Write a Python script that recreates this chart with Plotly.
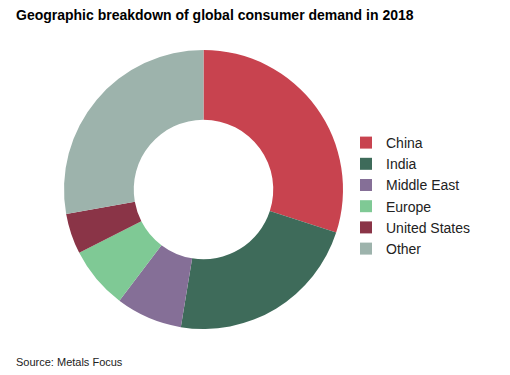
import plotly.graph_objects as go

regions = ["China", "India", "Middle East", "Europe", "United States", "Other"]
shares = [30.0, 22.6, 7.7, 7.2, 4.7, 27.8]
colors = ["#C8434F", "#3E6B5A", "#856F97", "#7FC995", "#8A3447", "#9DB3AC"]

fig = go.Figure(go.Pie(
    labels=regions,
    values=shares,
    sort=False,
    direction="clockwise",
    rotation=0,
    hole=0.5,
    marker=dict(colors=colors, line=dict(width=0)),
    textinfo="none",
    domain=dict(x=[64/510, 343/510], y=[1-329/375, 1-50/375]),
))

fig.update_layout(
    width=510, height=375,
    margin=dict(l=0, r=0, t=0, b=0),
    paper_bgcolor="white",
    plot_bgcolor="white",
    font=dict(family="Liberation Sans, Arial, sans-serif", color="#1a1a1a"),
    showlegend=True,
    legend=dict(
        x=346/510, y=1-127/375, xanchor="left", yanchor="top",
        font=dict(size=14, color="#222"),
        itemwidth=30,
        tracegroupgap=0,
        bgcolor="rgba(0,0,0,0)",
    ),
    annotations=[
        dict(text="<b>Geographic breakdown of global consumer demand in 2018</b>",
             x=14/510, y=1-15/375, xref="paper", yref="paper",
             xanchor="left", yanchor="middle", showarrow=False,
             font=dict(size=14, color="#000")),
        dict(text="Source: Metals Focus",
             x=14/510, y=1-362/375, xref="paper", yref="paper",
             xanchor="left", yanchor="middle", showarrow=False,
             font=dict(size=11, color="#222")),
    ],
)

fig.write_html("out.html", config={"displayModeBar": False},
               post_script="document.body.style.margin='0';")
